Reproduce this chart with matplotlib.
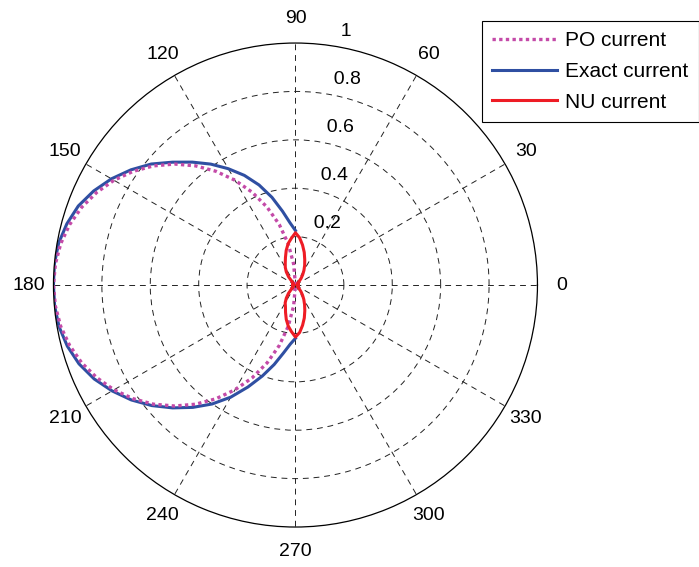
import numpy as np
import matplotlib.pyplot as plt

plt.rcParams['font.family'] = ['Liberation Sans', 'DejaVu Sans']

# angles in degrees, radii
ang_exact = list(range(90, 271, 5))
exact_r = [0.225, 0.258, 0.31, 0.375, 0.44, 0.5, 0.555, 0.61, 0.663, 0.718,
           0.778, 0.83, 0.878, 0.92, 0.955, 0.978, 0.994, 1.0, 1.0,
           0.999, 0.992, 0.976, 0.952, 0.918, 0.875, 0.828, 0.775, 0.718,
           0.66, 0.6, 0.535, 0.465, 0.40, 0.34, 0.285, 0.245, 0.22]

ang_po = list(range(90, 271, 5))
po_r = [0.0, 0.087, 0.174, 0.259, 0.342, 0.423, 0.5, 0.574, 0.643, 0.707,
        0.766, 0.819, 0.866, 0.906, 0.94, 0.966, 0.985, 0.996, 1.0,
        0.996, 0.985, 0.966, 0.94, 0.906, 0.866, 0.819, 0.766, 0.707,
        0.643, 0.574, 0.5, 0.423, 0.342, 0.259, 0.174, 0.087, 0.0]

ang_nu = list(range(0, 361, 5))
nu_r = [0.008, 0.01, 0.007, 0.009, 0.012, 0.01, 0.013, 0.011, 0.015, 0.022,
        0.036, 0.052, 0.07, 0.09, 0.112, 0.14, 0.168, 0.196, 0.216,
        0.194, 0.174, 0.148, 0.121, 0.1, 0.084, 0.066, 0.044, 0.021,
        0.014, 0.011, 0.013, 0.01, 0.012, 0.009, 0.011, 0.008, 0.01,
        0.008, 0.011, 0.009, 0.012, 0.01, 0.013, 0.011, 0.015, 0.023,
        0.045, 0.066, 0.085, 0.098, 0.12, 0.147, 0.172, 0.193, 0.215,
        0.197, 0.169, 0.141, 0.113, 0.089, 0.069, 0.051, 0.035, 0.021,
        0.014, 0.011, 0.013, 0.01, 0.012, 0.008, 0.01, 0.009, 0.008]

theta_ticks = list(range(0, 360, 30))
r_ticks = [0.2, 0.4, 0.6, 0.8, 1]
r_labels = ['0.2', '0.4', '0.6', '0.8', '1']
names = ['PO current', 'Exact current', 'NU current']

fig = plt.figure(figsize=(6.99, 5.67), dpi=100)
ax = fig.add_axes([0.0765, 0.0705, 0.6924, 0.8536], projection='polar')

l_exact, = ax.plot(np.deg2rad(ang_exact), exact_r, color='#2f4fa2', lw=2.2)
l_po, = ax.plot(np.deg2rad(ang_po), po_r, color='#c44aa8', lw=2.4,
                ls=(0, (1.0, 1.0)))
l_nu, = ax.plot(np.deg2rad(ang_nu), nu_r, color='#ee1c25', lw=2.2)

ax.set_ylim(0, 1)
ax.set_thetagrids(theta_ticks, [''] * len(theta_ticks))
ax.set_rgrids([0.2, 0.4, 0.6, 0.8], [''] * 4)
ax.grid(True, color='#222222', lw=0.7, ls=(0, (6, 5)))
ax.spines['polar'].set_linewidth(0.9)
ax.spines['polar'].set_color('black')
ax.tick_params(length=0)

# angle labels outside the circle
for t in theta_ticks:
    ax.text(np.deg2rad(t), 1.1, str(t), ha='center', va='center', fontsize=14)

# radius labels along 82 degrees
for r, lab in zip(r_ticks, r_labels):
    ax.text(np.deg2rad(82), r + 0.022, '  ' + lab, ha='left', va='bottom',
            fontsize=14)

leg = fig.legend([l_po, l_exact, l_nu], names, loc='upper left',
                 bbox_to_anchor=(481.7 / 699, 1 - 21 / 567),
                 bbox_transform=fig.transFigure, fontsize=15,
                 handlelength=3.1, handletextpad=0.42, labelspacing=0.56,
                 borderpad=0.5, borderaxespad=0, fancybox=False,
                 edgecolor='black', framealpha=1)
leg.get_frame().set_linewidth(0.8)

fig.savefig('out.png', dpi=100)
